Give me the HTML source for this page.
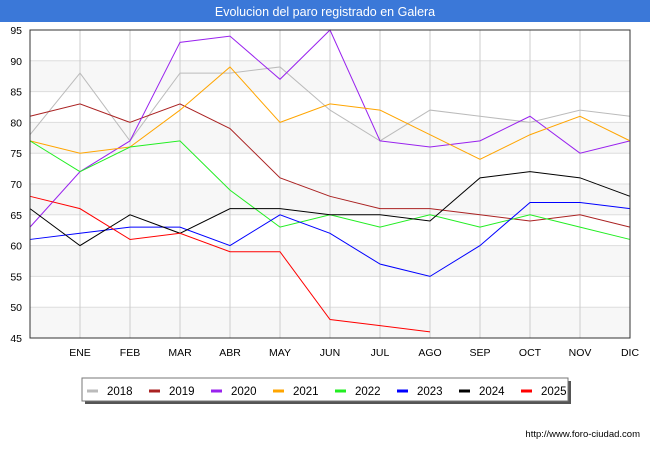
<!DOCTYPE html>
<html><head><meta charset="utf-8"><style>
body{margin:0;width:650px;height:450px;background:#fff;font-family:"Liberation Sans",sans-serif;overflow:hidden}
</style></head><body>
<svg id="c" width="650" height="450" xmlns="http://www.w3.org/2000/svg">
<rect x="0" y="0" width="650" height="22" fill="#3b78d8"/>
<text x="325" y="16" text-anchor="middle" font-size="12.5" fill="#fff" font-family="Liberation Sans, sans-serif">Evolucion del paro registrado en Galera</text>
<g id="bands"></g><g id="grid"></g><g id="series"></g><g id="axes"></g>
<g>
<rect x="85" y="381" width="486" height="23" fill="#555"/>
<rect x="82" y="378" width="486" height="23" fill="#fff" stroke="#777"/>
<g id="leg"></g>
</g>
<text x="640" y="437" text-anchor="end" font-size="9.5" fill="#000">http://www.foro-ciudad.com</text>
</svg>
<script>
const months=["","ENE","FEB","MAR","ABR","MAY","JUN","JUL","AGO","SEP","OCT","NOV","DIC"];
const yTicks=[45,50,55,60,65,70,75,80,85,90,95];
const years=["2018","2019","2020","2021","2022","2023","2024","2025"];
const colors=["#bbbbbb","#aa2222","#9922ee","#ffa500","#22ee22","#0000ff","#000000","#ff0000"];
const s2018=[78,88,77,88,88,89,82,77,82,81,80,82,81];
const s2019=[81,83,80,83,79,71,68,66,66,65,64,65,63];
const s2020=[63,72,77,93,94,87,95,77,76,77,81,75,77];
const s2021=[77,75,76,82,89,80,83,82,78,74,78,81,77];
const s2022=[77,72,76,77,69,63,65,63,65,63,65,63,61];
const s2023=[61,62,63,63,60,65,62,57,55,60,67,67,66];
const s2024=[66,60,65,62,66,66,65,65,64,71,72,71,68];
const s2025=[68,66,61,62,59,59,48,47,46];
const series=[s2018,s2019,s2020,s2021,s2022,s2023,s2024,s2025];
const NS="http://www.w3.org/2000/svg";
const X0=30,X1=630,Y0=338,Y1=30;
const xs=i=>X0+i*(X1-X0)/12;
const ys=v=>Y0-(v-45)*(Y0-Y1)/50;
function mk(t,a,p){const e=document.createElementNS(NS,t);for(const k in a)e.setAttribute(k,a[k]);p.appendChild(e);return e;}
const bands=document.getElementById('bands'),grid=document.getElementById('grid'),axes=document.getElementById('axes'),sg=document.getElementById('series'),leg=document.getElementById('leg');
for(let v=45;v<95;v+=10){const b=mk('rect',{x:X0,y:ys(v+5),width:X1-X0,height:ys(v)-ys(v+5),fill:'#f7f7f7'},bands);

}
yTicks.forEach(v=>{const l=mk('line',{x1:X0,x2:X1,y1:ys(v),y2:ys(v),stroke:'#ddd'},grid);


const t=mk('text',{x:22,y:ys(v)+4,'text-anchor':'end','font-size':10.5},axes);t.textContent=v;

});
months.forEach((m,i)=>{const l=mk('line',{x1:xs(i),x2:xs(i),y1:Y1,y2:Y0,stroke:'#ccc'},grid);


if(m){const t=mk('text',{x:xs(i),y:356,'text-anchor':'middle','font-size':10.5},axes);t.textContent=m;

}});
const fr=mk('rect',{x:X0,y:Y1,width:X1-X0,height:Y0-Y1,fill:'none',stroke:'#333'},axes);


series.forEach((s,k)=>{const p=mk('polyline',{points:s.map((v,i)=>xs(i)+','+ys(v)).join(' '),fill:'none',stroke:colors[k],'stroke-width':1},sg);


const lx=87+k*62;
const ll=mk('line',{x1:lx,x2:lx+11,y1:391,y2:391,stroke:colors[k],'stroke-width':3},leg);


const t=mk('text',{x:lx+20,y:395,'font-size':11.5},leg);t.textContent=years[k];

});
</script>
</body></html>
